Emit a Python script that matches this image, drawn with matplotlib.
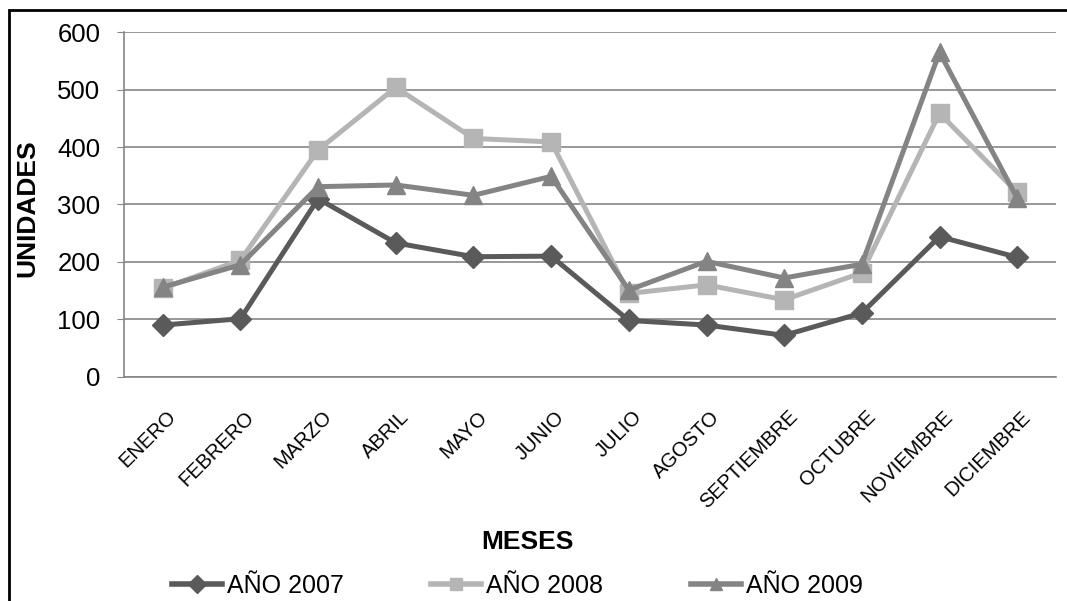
import matplotlib
matplotlib.use("Agg")
import matplotlib.pyplot as plt
import matplotlib.transforms as mtransforms
from matplotlib.patches import Rectangle
from matplotlib.lines import Line2D

plt.rcParams['font.family'] = ['Liberation Sans', 'DejaVu Sans']

meses = ['ENERO', 'FEBRERO', 'MARZO', 'ABRIL', 'MAYO', 'JUNIO', 'JULIO',
         'AGOSTO', 'SEPTIEMBRE', 'OCTUBRE', 'NOVIEMBRE', 'DICIEMBRE']
anio_2007 = [90, 101, 310, 233, 209, 210, 98, 90, 72, 111, 244, 208]
anio_2008 = [154, 203, 395, 504, 415, 409, 145, 160, 134, 181, 459, 321]
anio_2009 = [156, 195, 331, 334, 316, 349, 151, 201, 172, 196, 565, 311]
yticks = [0, 100, 200, 300, 400, 500, 600]

fig = plt.figure(figsize=(10.67, 6.01), dpi=100)
ax = fig.add_axes([0.1162, 0.3732, 0.8735, 0.5731])

x = list(range(len(meses)))
series = [
    ('AÑO 2007', anio_2007, '#5a5a5a', 'D', 11),
    ('AÑO 2008', anio_2008, '#b5b5b5', 's', 13),
    ('AÑO 2009', anio_2009, '#848484', '^', 13),
]
for label, vals, color, mk, ms in series:
    ax.plot(x, vals, color=color, lw=3.6, marker=mk, markersize=ms,
            markeredgecolor=color, markerfacecolor=color, label=label, zorder=3)

ax.set_xlim(-0.5, len(meses) - 0.5)
ax.set_ylim(0, 600)
ax.set_yticks(yticks)
ax.set_yticklabels([str(v) for v in yticks], fontsize=18.5)
ax.set_xticks(x)
ax.set_xticklabels(meses, rotation=45, ha='right', va='top',
                   rotation_mode='anchor', fontsize=14.5)
ax.tick_params(axis='y', length=5, color='#868686', pad=12)
ax.tick_params(axis='x', length=0, pad=22)

# nudge the month labels a few pixels to the right
shift = mtransforms.ScaledTranslation(4 / 100, 0, fig.dpi_scale_trans)
for lbl in ax.get_xticklabels():
    lbl.set_transform(lbl.get_transform() + shift)

ax.grid(axis='y', color='#868686', lw=1.2, zorder=0)
for s in ['top', 'right']:
    ax.spines[s].set_visible(False)
for s in ['left', 'bottom']:
    ax.spines[s].set_color('#868686')
    ax.spines[s].set_linewidth(1.2)

fig.text(27 / 1067, 1 - 208 / 601, 'UNIDADES', fontsize=19, fontweight='bold',
         rotation=90, ha='center', va='center')
fig.text(527 / 1067, 1 - 542 / 601, 'MESES', fontsize=19, fontweight='bold',
         ha='center', va='center')

# legend along the bottom
handles = [Line2D([0], [0], color=c, lw=4, marker=m, markersize=9,
                  markerfacecolor=c, markeredgecolor=c)
           for _, _, c, m, _ in series]
fig.legend(handles, [s[0] for s in series], loc='center',
           bbox_to_anchor=(517 / 1067, 1 - 586 / 601), ncol=3, frameon=False,
           fontsize=18, handlelength=2.0, handletextpad=0.2,
           columnspacing=3.5, borderpad=0, borderaxespad=0)

# outer frame
fig.patches.append(Rectangle((9 / 1067, -0.1), 1.2, 1 - 10 / 601 + 0.1,
                             transform=fig.transFigure, fill=False,
                             edgecolor='black', lw=2))

fig.savefig('out.png', dpi=100)
